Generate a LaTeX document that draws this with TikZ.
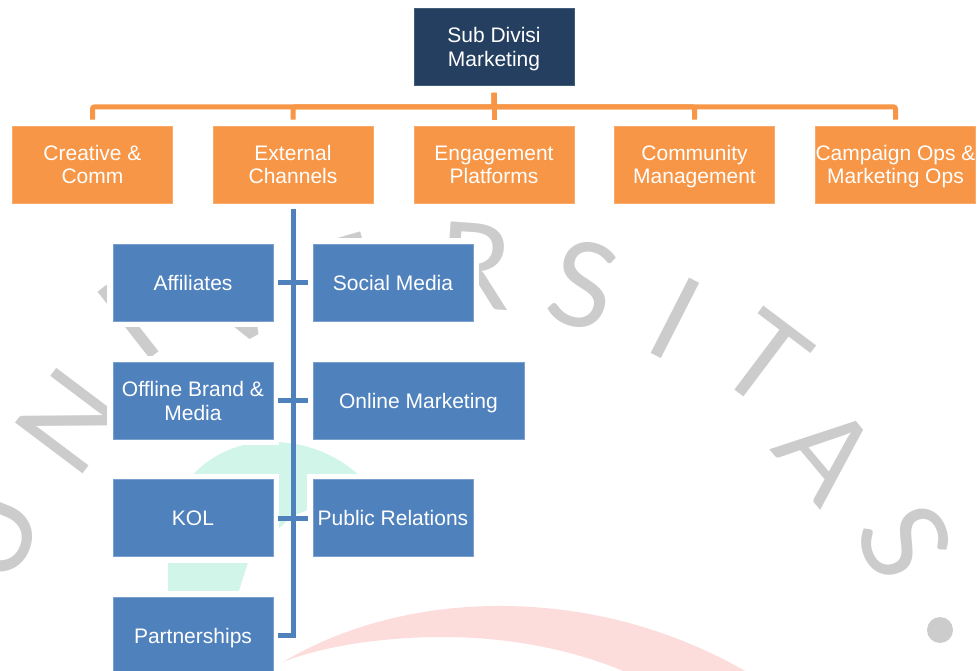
\documentclass[tikz,border=0pt]{standalone}
\usepackage{fontspec}
\setmainfont{Liberation Sans}
\newfontfamily\wmfont{Lato}
\definecolor{navy}{HTML}{243F60}
\definecolor{orng}{HTML}{F79646}
\definecolor{bluebox}{HTML}{4F81BD}
\definecolor{wmgray}{HTML}{CCCCCC}
\definecolor{mint}{HTML}{D2F5E9}
\definecolor{blush}{HTML}{FDDCDC}
% line strut: keeps every text line the same height so labels centre on their capitals
\newcommand\lstrut{\rule[-4.5pt]{0pt}{24pt}}
\begin{document}
\begin{tikzpicture}[x=1pt,y=-1pt,
  box/.style={rectangle, inner sep=0pt, minimum width=160pt, minimum height=77pt,
    text=white, align=center, font=\fontsize{21}{24}\selectfont,
    preaction={draw=white, line width=12pt}},
  rootbox/.style={box, fill=navy, draw=navy!85!white, line width=0.8pt},
  unitbox/.style={box, fill=orng, draw=orng!80!white, line width=0.8pt},
  chanbox/.style={box, fill=bluebox, draw=bluebox!75!white, line width=0.8pt},
  oline/.style={draw=orng, line width=5pt, rounded corners=2pt,
    shorten <=7pt, shorten >=6pt},
  bline/.style={draw=bluebox, line width=5pt},
  wm/.style={text=wmgray, inner sep=0pt, font=\wmfont\fontsize{118}{118}\selectfont}]

\useasboundingbox (0,0) rectangle (979,671);
\clip (0,0) rectangle (979,671);
\fill[white] (0,0) rectangle (979,671);

% background emblem: flame, swoosh and lettering on an arc
\fill[mint] (168,600) -- (168,545) .. controls (168,480) and (215,443) .. (268,442)
  .. controls (310,441) and (340,458) .. (360,476)
  .. controls (335,498) and (310,510) .. (292,516) -- (250,556) -- (236,600) -- cycle;
\fill[blush] (283,662) .. controls (350,622) and (430,605) .. (505,606)
  .. controls (600,607) and (700,635) .. (790,700) -- (680,700)
  .. controls (600,650) and (510,637) .. (442,637)
  .. controls (380,637) and (320,647) .. (283,662) -- cycle;

\node[wm, rotate=68]  (lU)  at (-10,535) {U};
\node[wm, rotate=53]  (lN)  at (70,421)  {N};
\node[wm, rotate=38]  (lI)  at (128,322) {I};
\node[wm, rotate=29]  (lV)  at (234,300) {V};
\node[wm, rotate=16]  (lE)  at (345,280) {E};
\node[wm, rotate=-4]  (lR)  at (474,266) {R};
\node[wm, rotate=-15] (lS)  at (583,285) {S};
\node[wm, rotate=-27] (lI2) at (675,318) {I};
\node[wm, rotate=-37] (lT)  at (765,360) {T};
\node[wm, rotate=-50] (lA)  at (828,453) {A};
\node[wm, rotate=-66] (lS2) at (905,542) {S};
\fill[wmgray] (940,630) circle (13);

% organisation chart
\node[rootbox] (root) at (494,47)    {\lstrut Sub Divisi\\\lstrut Marketing};
\node[unitbox] (cc)   at (92.5,164.5)  {\lstrut Creative \&\\\lstrut Comm};
\node[unitbox] (ext)  at (293,164.5)   {\lstrut External\\\lstrut Channels};
\node[unitbox] (eng)  at (494,164.5)   {\lstrut Engagement\\\lstrut Platforms};
\node[unitbox] (com)  at (694.5,164.5) {\lstrut Community\\\lstrut Management};
\node[unitbox] (ops)  at (895.5,164.5) {\lstrut Campaign Ops \&\\\lstrut Marketing Ops};

\node[chanbox] (aff)  at (193,282.5)   {\lstrut Affiliates};
\node[chanbox] (soc)  at (393,282.5)   {\lstrut Social Media};
\node[chanbox] (off)  at (193,400.5)   {\lstrut Offline Brand \&\\\lstrut Media};
\node[chanbox, minimum width=211pt] (onl) at (418.5,400.5) {\lstrut Online Marketing};
\node[chanbox] (kol)  at (193,518)     {\lstrut KOL};
\node[chanbox] (pr)   at (393,518)     {\lstrut Public Relations};
\node[chanbox] (par)  at (193,635.5)   {\lstrut Partnerships};

\foreach \u in {cc,ext,eng,com,ops}
  \draw[oline] (root.south) -- ++(0,21) -| (\u.north);

\draw[bline, shorten <=6pt, shorten >=5pt] (ext.south) |- (par.east);
\foreach \c in {aff,off,kol}
  \draw[bline, shorten <=5pt] (\c.east) -- (\c.east -| ext.south);
\foreach \c in {soc,onl,pr}
  \draw[bline, shorten <=5pt] (\c.west) -- (\c.west -| ext.south);
\end{tikzpicture}
\end{document}
